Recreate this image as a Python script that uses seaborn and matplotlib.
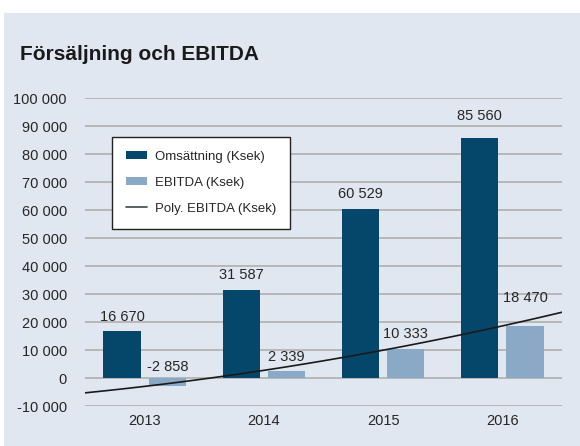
import numpy as np
import pandas as pd
import matplotlib
matplotlib.use("Agg")
import matplotlib.pyplot as plt
import matplotlib.patches as mpatches
from matplotlib.lines import Line2D
from matplotlib.ticker import FuncFormatter
import seaborn as sns

years = ["2013", "2014", "2015", "2016"]
omsattning = [16670, 31587, 60529, 85560]
ebitda = [-2858, 2339, 10333, 18470]
series_names = ["Omsättning (Ksek)", "EBITDA (Ksek)"]
trend_name = "Poly. EBITDA (Ksek)"
title = "Försäljning och EBITDA"

dark = "#05476b"
light = "#8aa9c6"
bg = "#e1e7f0"

df = pd.DataFrame({
    "year": years * 2,
    "value": omsattning + ebitda,
    "series": [series_names[0]] * 4 + [series_names[1]] * 4,
})

sns.set_style("white")
plt.rcParams["font.family"] = ["Liberation Sans", "DejaVu Sans"]

fig = plt.figure(figsize=(5.8, 4.46), dpi=100)
fig.patch.set_facecolor("white")
fig.patches.append(mpatches.Rectangle((4 / 580, 0), 1, 1 - 13 / 446,
                                      transform=fig.transFigure,
                                      facecolor=bg, edgecolor="none", zorder=-10))
ax = fig.add_axes([85 / 580, 1 - 406 / 446, 477 / 580, 308 / 446])
ax.set_facecolor(bg)

sns.barplot(data=df, x="year", y="value", hue="series", order=years,
            hue_order=series_names, palette=[dark, light],
            width=0.76, gap=0.18, saturation=1, ax=ax, legend=False,
            edgecolor="none", linewidth=0, zorder=3)

# polynomial (2nd order) trend of EBITDA
coef = np.polyfit(np.arange(len(ebitda)), ebitda, 2)
xs = np.linspace(-0.5, 3.5, 100)
ax.plot(xs, np.polyval(coef, xs), color="#1a1a1a", lw=1.2, zorder=4)

# value labels
extra = [[0, 0, 0, 5.3], [-2.8, 0, 0, 9.5]]
for s, vals in enumerate([omsattning, ebitda]):
    for i, v in enumerate(vals):
        xpos = i + (-0.19 if s == 0 else 0.19)
        ax.annotate(f"{v:,}".replace(",", " "), (xpos, max(v, 0)),
                    xytext=(0, 5.5 + extra[s][i]), textcoords="offset points",
                    ha="center", va="bottom", fontsize=10.5, color="#262626",
                    zorder=5)

ax.set_xlim(-0.5, 3.5)
ax.set_ylim(-10000, 100000)
ax.set_yticks(range(-10000, 100001, 10000))
ax.yaxis.set_major_formatter(FuncFormatter(lambda v, p: f"{v:,.0f}".replace(",", " ")))
ax.grid(axis="y", color="#b3b3b3", lw=1.3, zorder=1)
ax.set_axisbelow(True)
for sp in ax.spines.values():
    sp.set_visible(False)
ax.tick_params(axis="y", length=0, pad=13, labelsize=10.5, labelcolor="#262626")
ax.tick_params(axis="x", length=0, pad=6, labelsize=10.5, labelcolor="#262626")
ax.set_xlabel("")
ax.set_ylabel("")

handles = [mpatches.Patch(facecolor=dark, edgecolor="none"),
           mpatches.Patch(facecolor=light, edgecolor="none"),
           Line2D([0], [0], color="#3a4a50", lw=1.2)]
leg = ax.legend(handles, series_names + [trend_name], loc="upper left",
                bbox_to_anchor=(0.057, 0.873), borderaxespad=0,
                fancybox=False, frameon=True, fontsize=9.5,
                handlelength=1.6, handleheight=0.55, handletextpad=0.6,
                labelspacing=1.05, borderpad=1.05)
leg.get_frame().set_edgecolor("#222222")
leg.get_frame().set_linewidth(1.0)
leg.get_frame().set_facecolor("white")
leg.get_frame().set_alpha(1)
leg.set_zorder(6)

fig.text(20 / 580, 1 - 55 / 446, title, fontsize=15, fontweight="bold",
         color="#1a1a1a", va="center", ha="left")

fig.savefig("out.png", dpi=100, facecolor=fig.get_facecolor())
